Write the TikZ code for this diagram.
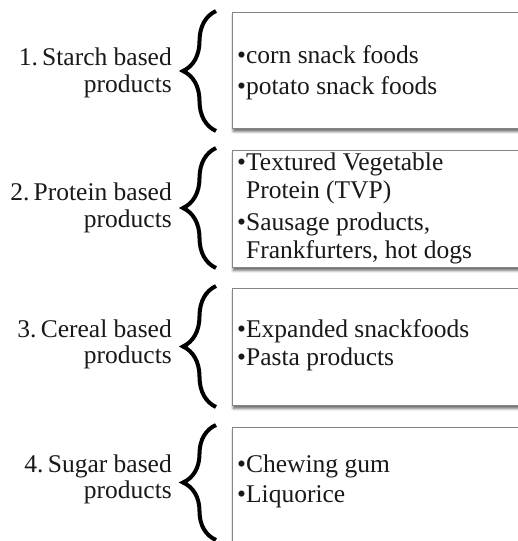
\documentclass[tikz,border=0pt]{standalone}
\usepackage{fontspec}
\setmainfont{Liberation Serif}
\usetikzlibrary{decorations.pathreplacing,shadows.blur}

\definecolor{boxgray}{HTML}{858585}

\tikzset{
  itembox/.style={draw=boxgray, line width=0.9pt, fill=white, rectangle,
    inner sep=0pt, anchor=north west, minimum width=300pt,
    blur shadow={shadow xshift=0.8pt, shadow yshift=-3pt,
      shadow blur steps=6, shadow blur radius=2.5pt, shadow opacity=60}},
  curly/.style={line width=4pt, decorate,
    decoration={brace, amplitude=33pt, aspect=0.5}},
  bodytext/.style={font=\fontsize{25.5}{30}\selectfont, inner sep=0pt,
    text=black!90},
  itemtext/.style={bodytext, anchor=base west},
  grouplabel/.style={bodytext, anchor=base east},
}

\begin{document}
\begin{tikzpicture}[x=1pt, y=-1pt]
  \useasboundingbox (0,0) rectangle (518,541);
  \clip (0,0) rectangle (518,541);

  % boxes holding the examples
  \node[itembox, minimum height=116pt] (box1) at (232,12)  {};
  \node[itembox, minimum height=117pt] (box2) at (232,150) {};
  \node[itembox, minimum height=117pt] (box3) at (232,288) {};
  \node[itembox, minimum height=130pt] (box4) at (232,427) {};

  % curly braces joining each group name to its box
  \draw[curly] (216,131) -- (216,11);
  \draw[curly] (216,268) -- (216,148);
  \draw[curly] (216,407) -- (216,286);
  \draw[curly] (216,540) -- (216,425);

  % group names
  \node[grouplabel] (g1a) at (172,65)  {1.\,Starch based};
  \node[grouplabel] (g1b) at (172,92)  {products};
  \node[grouplabel] (g2a) at (172,200) {2.\,Protein based};
  \node[grouplabel] (g2b) at (172,227) {products};
  \node[grouplabel] (g3a) at (172,337) {3.\,Cereal based};
  \node[grouplabel] (g3b) at (172,363) {products};
  \node[grouplabel] (g4a) at (172,472) {4.\,Sugar based};
  \node[grouplabel] (g4b) at (172,498) {products};

  % examples
  \node[itemtext] (e1a) at (237,63)  {\textbullet corn snack foods};
  \node[itemtext] (e1b) at (237,94)  {\textbullet potato snack foods};
  \node[itemtext] (e2a) at (237,170) {\textbullet Textured Vegetable};
  \node[itemtext] (e2b) at (237,198) {\phantom{\textbullet}Protein (TVP)};
  \node[itemtext] (e2c) at (237,230) {\textbullet Sausage products,};
  \node[itemtext] (e2d) at (237,258) {\phantom{\textbullet}Frankfurters, hot dogs};
  \node[itemtext] (e3a) at (237,337) {\textbullet Expanded snackfoods};
  \node[itemtext] (e3b) at (237,365) {\textbullet Pasta products};
  \node[itemtext] (e4a) at (237,472) {\textbullet Chewing gum};
  \node[itemtext] (e4b) at (237,502) {\textbullet Liquorice};
\end{tikzpicture}
\end{document}
